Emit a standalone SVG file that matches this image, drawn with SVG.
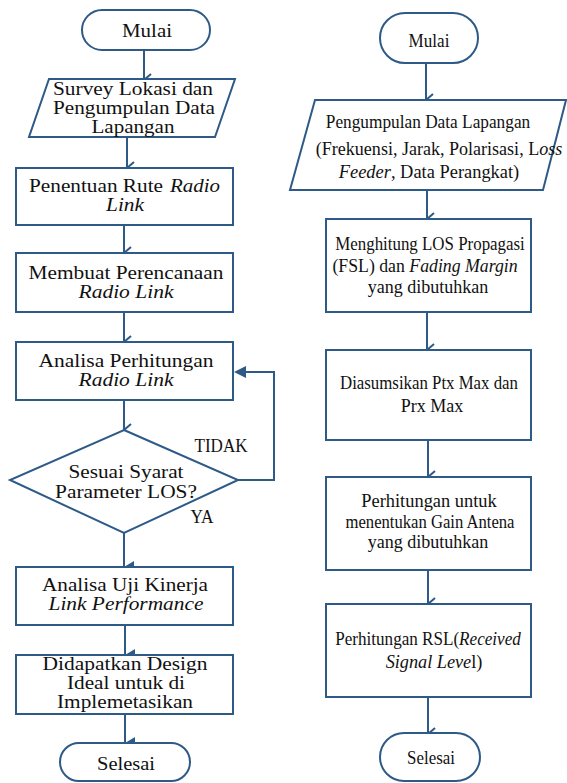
<svg xmlns="http://www.w3.org/2000/svg" width="567" height="783" viewBox="0 0 567 783">
<style>
.s{fill:#fff;stroke:#2E5A87;stroke-width:2}
.c{fill:none;stroke:#2E5A87;stroke-width:2}
.t{font-family:"Liberation Serif","Times New Roman",serif;font-size:18px;fill:#111;text-anchor:middle}
.r{font-family:"Liberation Serif","Times New Roman",serif;font-size:19px;fill:#111;text-anchor:middle}
.a{text-anchor:start}
.i{font-style:italic}
</style>
<defs>
<marker id="open" markerWidth="14" markerHeight="12" refX="7" refY="10" orient="auto" markerUnits="userSpaceOnUse" viewBox="0 0 14 12">
<polyline points="1,3 7,10 13,3" fill="none" stroke="#2E5A87" stroke-width="2"/>
</marker>
<marker id="fill" markerWidth="14" markerHeight="12" refX="7" refY="11" orient="auto" markerUnits="userSpaceOnUse" viewBox="0 0 14 12">
<polygon points="1,1 13,1 7,11" fill="#2E5A87"/>
</marker>
</defs>

<g id="connectors">
<line class="c" x1="144" y1="50" x2="144" y2="80" stroke-width="4" marker-end="url(#open)"/>
<line class="c" x1="127" y1="137" x2="127" y2="168" marker-end="url(#open)"/>
<line class="c" x1="124" y1="225" x2="124" y2="253" marker-end="url(#open)"/>
<line class="c" x1="124" y1="312" x2="124" y2="342" marker-end="url(#open)"/>
<line class="c" x1="124" y1="400" x2="124" y2="430" marker-end="url(#open)"/>
<line class="c" x1="124" y1="533" x2="124" y2="567" marker-end="url(#fill)"/>
<line class="c" x1="125" y1="625" x2="125" y2="655" marker-end="url(#fill)"/>
<line class="c" x1="125" y1="714" x2="125" y2="743" marker-end="url(#fill)"/>
<polyline class="c" points="238,480 274,480 274,372 245,372"/>
<polygon points="234,372 246,366 246,378" fill="#2E5A87"/>
<line class="c" x1="426" y1="63" x2="426" y2="100" marker-end="url(#open)"/>
<line class="c" x1="427" y1="190" x2="427" y2="219" marker-end="url(#open)"/>
<line class="c" x1="427" y1="312" x2="427" y2="350" marker-end="url(#open)"/>
<line class="c" x1="428" y1="440" x2="428" y2="477" marker-end="url(#open)"/>
<line class="c" x1="428" y1="570" x2="428" y2="604" marker-end="url(#open)"/>
<line class="c" x1="428" y1="697" x2="428" y2="734" stroke-width="4" marker-end="url(#open)"/>
</g>

<g id="l-mulai">
<rect class="s" x="82" y="10" width="128" height="40" rx="20"/>
<text class="t" x="147" y="37" textLength="50" lengthAdjust="spacingAndGlyphs">Mulai</text>
</g>
<g id="l-survey">
<polygon class="s" points="49,79 235,79 215,137 29,137"/>
<text class="t" x="133" y="95" textLength="160" lengthAdjust="spacingAndGlyphs">Survey Lokasi dan</text>
<text class="t" x="134" y="114" textLength="162" lengthAdjust="spacingAndGlyphs">Pengumpulan Data</text>
<text class="t" x="133" y="133" textLength="83" lengthAdjust="spacingAndGlyphs">Lapangan</text>
</g>
<g id="l-rute">
<rect class="s" x="16" y="168" width="217" height="57"/>
<text class="t a" x="29" y="192" textLength="134" lengthAdjust="spacingAndGlyphs">Penentuan Rute</text>
<text class="t a i" x="170" y="192" textLength="50" lengthAdjust="spacingAndGlyphs">Radio</text>
<text class="t i" x="125" y="211" textLength="38" lengthAdjust="spacingAndGlyphs">Link</text>
</g>
<g id="l-membuat">
<rect class="s" x="16" y="253" width="217" height="59"/>
<text class="t" x="126" y="279" textLength="195" lengthAdjust="spacingAndGlyphs">Membuat Perencanaan</text>
<text class="t i" x="126" y="298" textLength="95" lengthAdjust="spacingAndGlyphs">Radio Link</text>
</g>
<g id="l-analisa">
<rect class="s" x="16" y="342" width="217" height="58"/>
<text class="t" x="126" y="367" textLength="175" lengthAdjust="spacingAndGlyphs">Analisa Perhitungan</text>
<text class="t i" x="126" y="386" textLength="95" lengthAdjust="spacingAndGlyphs">Radio Link</text>
</g>
<g id="l-sesuai">
<polygon class="s" points="124,430 238,480 124,533 10,480"/>
<text class="t" x="126" y="478" textLength="115" lengthAdjust="spacingAndGlyphs">Sesuai Syarat</text>
<text class="t" x="126" y="498" textLength="142" lengthAdjust="spacingAndGlyphs">Parameter LOS?</text>
</g>
<text class="t" x="221" y="452" font-size="15" textLength="53" lengthAdjust="spacingAndGlyphs">TIDAK</text>
<text class="t" x="202" y="523" font-size="15" textLength="23" lengthAdjust="spacingAndGlyphs">YA</text>
<g id="l-uji">
<rect class="s" x="16" y="567" width="217" height="58"/>
<text class="t" x="125" y="591" font-size="17" textLength="166" lengthAdjust="spacingAndGlyphs">Analisa Uji Kinerja</text>
<text class="t i" x="126" y="610" font-size="17" textLength="155" lengthAdjust="spacingAndGlyphs">Link Performance</text>
</g>
<g id="l-design">
<rect class="s" x="16" y="655" width="217" height="59"/>
<text class="t" x="125" y="670" font-size="16" textLength="165" lengthAdjust="spacingAndGlyphs">Didapatkan Design</text>
<text class="t" x="126" y="689" font-size="16" textLength="118" lengthAdjust="spacingAndGlyphs">Ideal untuk di</text>
<text class="t" x="125" y="708" font-size="16" textLength="136" lengthAdjust="spacingAndGlyphs">Implemetasikan</text>
</g>
<g id="l-selesai">
<rect class="s" x="60" y="743" width="130" height="38" rx="19"/>
<text class="t" x="126" y="770" textLength="58" lengthAdjust="spacingAndGlyphs">Selesai</text>
</g>

<g id="r-mulai">
<rect class="s" x="380" y="13" width="98" height="50" rx="25"/>
<text class="r" transform="translate(429 47) scale(0.9 1)">Mulai</text>
</g>
<g id="r-data">
<polygon class="s" points="315,100 566,100 543,190 290,190"/>
<text class="r" transform="translate(428 128) scale(0.91 1)">Pengumpulan Data Lapangan</text>
<text class="r" transform="translate(439 155) scale(0.95 1)">(Frekuensi, Jarak, Polarisasi, L<tspan class="i">oss</tspan></text>
<text class="r" transform="translate(429 178) scale(0.97 1)"><tspan class="i">Feeder</tspan>, Data Perangkat)</text>
</g>
<g id="r-los">
<rect class="s" x="326" y="219" width="205" height="93"/>
<text class="r" transform="translate(430 250) scale(0.89 1)">Menghitung LOS Propagasi</text>
<text class="r" transform="translate(425 272) scale(0.935 1)">(FSL) dan <tspan class="i">Fading Margin</tspan></text>
<text class="r" transform="translate(428 293) scale(0.95 1)">yang dibutuhkan</text>
</g>
<g id="r-ptx">
<rect class="s" x="326" y="350" width="205" height="90"/>
<text class="r" transform="translate(429 389) scale(0.885 1)">Diasumsikan Ptx Max dan</text>
<text class="r" transform="translate(432 412) scale(0.95 1)">Prx Max</text>
</g>
<g id="r-gain">
<rect class="s" x="326" y="477" width="205" height="93"/>
<text class="r" transform="translate(429 507) scale(0.97 1)">Perhitungan untuk</text>
<text class="r" transform="translate(430 528) scale(0.875 1)">menentukan Gain Antena</text>
<text class="r" transform="translate(428 548) scale(0.95 1)">yang dibutuhkan</text>
</g>
<g id="r-rsl">
<rect class="s" x="326" y="604" width="205" height="93"/>
<text class="r" transform="translate(428 645) scale(0.9 1)">Perhitungan RSL(<tspan class="i">Received</tspan></text>
<text class="r" transform="translate(434 668) scale(0.96 1)"><tspan class="i">Signal Leve</tspan>l)</text>
</g>
<g id="r-selesai">
<rect class="s" x="380" y="733" width="100" height="48" rx="24"/>
<text class="r" transform="translate(431 764) scale(0.89 1)">Selesai</text>
</g>
</svg>
